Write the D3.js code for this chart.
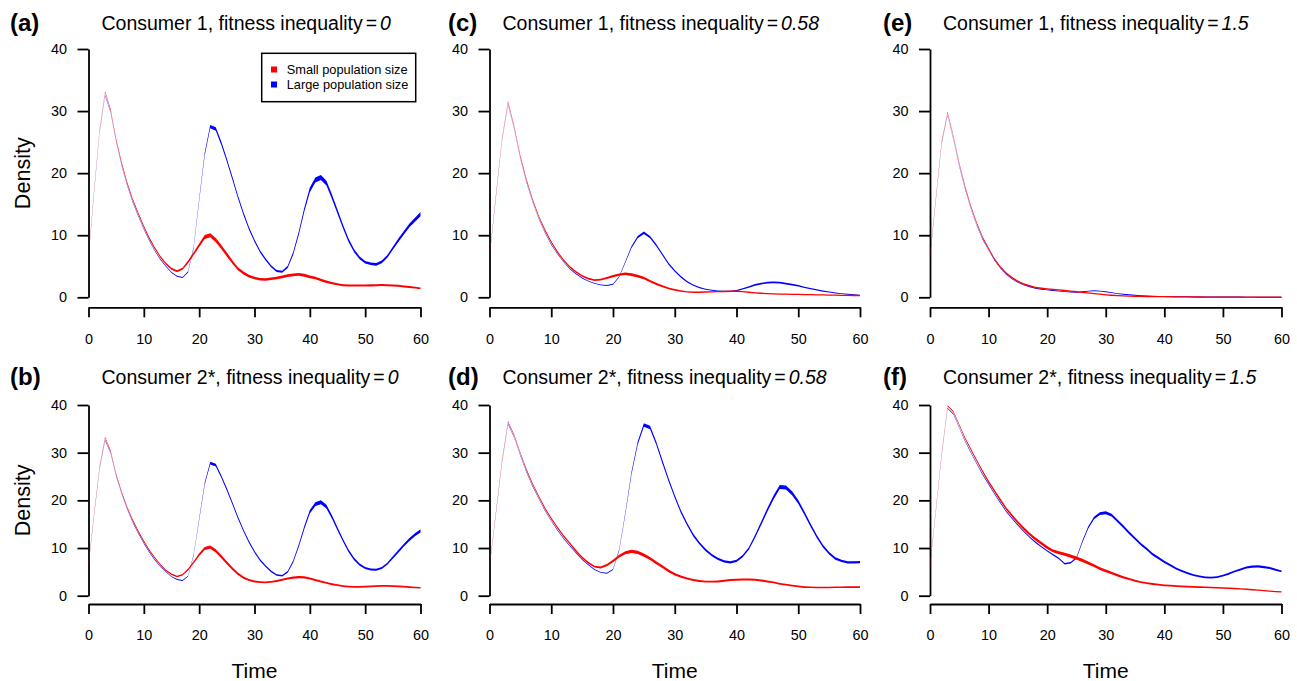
<!DOCTYPE html>
<html><head><meta charset="utf-8">
<script src="https://cdn.jsdelivr.net/npm/d3@7"></script>
<style>
body{margin:0;background:#fff}
svg{display:block}
text{font-family:"Liberation Sans",Arial,Helvetica,sans-serif;fill:#000}
</style>
</head><body>
<svg id="chart" width="1297" height="681"></svg>
<script>
// ---------------- DATA ----------------
const timeSteps = d3.range(0, 61);
const xTicks = [0, 10, 20, 30, 40, 50, 60];
const yTicks = [0, 10, 20, 30, 40];
const panelLabels = ["(a)", "(b)", "(c)", "(d)", "(e)", "(f)"];
const consumerNames = ["Consumer 1", "Consumer 2*"];
const inequalityValues = ["0", "0.58", "1.5"];
const legendLabels = ["Small population size", "Large population size"];
const yLabel = "Density";
const xLabel = "Time";

// (a) Consumer 1, inequality 0
const smallA = [6.5,17,27,33.1,30.2,25.4,21.6,18.4,15.7,13.5,11.4,9.5,7.9,6.5,5.4,4.6,4.2,4.6,5.7,7.0,8.4,9.7,10.0,9.2,8.1,6.9,5.7,4.6,3.9,3.4,3.1,2.9,2.85,3.0,3.1,3.3,3.5,3.6,3.7,3.55,3.3,3.1,2.8,2.5,2.3,2.1,1.95,1.9,1.9,1.9,1.9,1.92,1.95,1.97,1.95,1.9,1.85,1.75,1.65,1.55,1.45];
const largeA = [6.5,16.8,26.5,32.5,29.8,25.0,21.2,18.0,15.3,13.1,11.0,9.1,7.5,6.1,5.0,4.0,3.4,3.2,4.1,8.0,15.7,23.1,27.5,27.1,24.8,22.1,19.2,16.2,13.5,11.1,9.1,7.4,6.1,5.0,4.25,4.1,4.9,7.1,10.3,14.1,17.3,18.9,19.3,18.4,16.2,13.8,11.4,9.2,7.5,6.35,5.65,5.4,5.3,5.7,6.6,7.9,9.2,10.4,11.6,12.5,13.4];
// (b) Consumer 2*, inequality 0
const smallB = [6.5,17,27,33.2,30.3,25.5,21.7,18.5,15.8,13.5,11.4,9.5,7.9,6.5,5.3,4.5,4.05,4.4,5.5,7.0,8.6,9.9,10.2,9.4,8.2,6.9,5.7,4.6,3.8,3.3,3.0,2.85,2.8,2.9,3.1,3.35,3.6,3.8,3.9,3.85,3.6,3.3,3.0,2.7,2.4,2.2,2.0,1.9,1.85,1.85,1.9,1.95,2.0,2.05,2.05,2.0,1.95,1.9,1.8,1.72,1.65];
const largeB = [6.5,16.8,26.5,32.6,29.9,25.1,21.3,18.1,15.4,13.1,11.0,9.1,7.5,6.1,5.0,4.0,3.4,3.2,4.1,8.5,16.0,23.5,27.8,27.4,25.0,22.3,19.4,16.4,13.7,11.3,9.2,7.5,6.2,5.1,4.35,4.2,5.0,7.2,10.5,14.3,17.6,19.2,19.6,18.7,16.5,14.0,11.6,9.4,7.7,6.5,5.8,5.5,5.45,5.8,6.7,8.0,9.3,10.6,11.8,12.8,13.6];
// (c) Consumer 1, inequality 0.58
const smallC = [6.5,16,25.4,31.5,27.5,22.7,18.9,15.7,13.0,10.8,8.9,7.3,6.0,4.9,4.1,3.45,3.0,2.75,2.85,3.1,3.4,3.65,3.8,3.65,3.4,3.1,2.6,2.15,1.8,1.45,1.2,1.0,0.88,0.82,0.82,0.85,0.88,0.92,0.95,0.98,0.98,0.92,0.82,0.72,0.65,0.6,0.55,0.52,0.5,0.48,0.46,0.44,0.42,0.4,0.38,0.36,0.34,0.32,0.3,0.29,0.27];
const largeC = [6.5,15.8,25.0,31.0,27.1,22.3,18.5,15.3,12.6,10.4,8.5,7.0,5.7,4.6,3.8,3.1,2.6,2.25,2.0,1.9,2.1,3.3,5.7,8.1,9.7,10.4,9.7,8.4,6.9,5.4,4.25,3.3,2.5,1.95,1.55,1.3,1.13,1.02,0.97,0.97,1.08,1.35,1.65,2.0,2.2,2.35,2.4,2.35,2.2,2.05,1.85,1.6,1.4,1.2,1.0,0.85,0.7,0.6,0.5,0.4,0.32];
// (d) Consumer 2*, inequality 0.58
const smallD = [6.1,17,28.1,36.5,33.7,29.9,26.4,23.4,20.8,18.3,16.2,14.3,12.5,11.0,9.4,8.0,6.9,6.1,5.9,6.4,7.3,8.3,9.0,9.3,9.1,8.5,7.8,6.9,6.1,5.2,4.5,4.0,3.6,3.3,3.1,2.95,2.95,3.0,3.15,3.3,3.35,3.4,3.4,3.35,3.2,3.0,2.8,2.5,2.3,2.1,1.95,1.8,1.75,1.7,1.7,1.7,1.75,1.75,1.8,1.8,1.8];
const largeD = [6.1,16.8,27.5,36.0,33.2,29.4,25.9,22.9,20.3,17.8,15.7,13.8,12.0,10.5,9.0,7.6,6.5,5.5,4.9,4.7,5.5,9.6,17.3,25.7,32.0,35.8,35.3,32.0,28.1,24.3,20.8,17.6,15.0,12.7,11.0,9.6,8.5,7.7,7.2,7.0,7.3,8.3,9.9,12.4,15.2,18.0,20.6,22.8,22.7,21.5,19.7,17.3,14.8,12.4,10.4,8.9,7.8,7.3,7.0,7.0,7.06];
// (e) Consumer 1, inequality 1.5
const smallE = [6.5,16,25.1,29.8,25.9,21.6,17.8,14.6,11.9,9.6,7.9,6.2,4.9,3.9,3.2,2.6,2.15,1.85,1.6,1.45,1.35,1.25,1.2,1.1,1.0,0.9,0.8,0.7,0.6,0.5,0.4,0.33,0.27,0.22,0.19,0.17,0.15,0.13,0.12,0.11,0.1,0.09,0.08,0.07,0.06,0.05,0.05,0.04,0.04,0.03,0.03,0.03,0.02,0.02,0.02,0.02,0.01,0.01,0.01,0.01,0.01];
const largeE = [6.5,15.8,24.8,29.3,25.4,21.1,17.4,14.2,11.5,9.3,7.6,6.0,4.7,3.7,3.0,2.4,2.0,1.7,1.45,1.3,1.2,1.1,1.0,0.92,0.85,0.8,0.9,1.0,1.05,1.0,0.9,0.75,0.6,0.5,0.4,0.32,0.26,0.22,0.18,0.15,0.13,0.11,0.1,0.09,0.08,0.07,0.06,0.06,0.05,0.05,0.05,0.04,0.04,0.04,0.03,0.03,0.03,0.02,0.02,0.02,0.02];
// (f) Consumer 2*, inequality 1.5
const smallF = [6.1,18,29.9,39.8,38.6,35.8,33.0,30.6,28.3,26.0,23.9,22.0,20.1,18.3,16.8,15.4,14.1,12.9,11.9,11.0,10.1,9.4,9.0,8.7,8.3,7.9,7.4,6.85,6.3,5.7,5.2,4.75,4.3,3.85,3.5,3.15,2.85,2.65,2.45,2.3,2.15,2.1,2.0,1.95,1.9,1.85,1.8,1.75,1.7,1.65,1.6,1.55,1.5,1.42,1.35,1.25,1.15,1.05,0.95,0.87,0.8];
const largeF = [6.1,17.8,29.5,39.3,38.1,35.2,32.4,30.0,27.7,25.4,23.4,21.4,19.5,17.7,16.2,14.8,13.5,12.3,11.2,10.3,9.4,8.6,7.8,6.7,6.9,7.9,11.3,14.3,16.3,17.2,17.4,16.9,15.7,14.5,13.2,12.0,10.8,9.8,8.7,7.9,7.1,6.4,5.7,5.2,4.7,4.3,4.05,3.85,3.8,3.9,4.2,4.6,5.1,5.5,5.9,6.1,6.15,6.0,5.8,5.45,5.1];

// ---------------- LAYOUT ----------------
const W = 1297, H = 681;
const colX = [[88.5, 420.5], [489.5, 860], [930, 1281.5]];
const rowY = [{y0: 297.3, y40: 49, xAxisY: 307.3, titleY: 30, labelY: 31},
              {y0: 595.7, y40: 405, xAxisY: 604, titleY: 384, labelY: 385}];
const panelData = [
  [smallA, largeA], [smallB, largeB],
  [smallC, largeC], [smallD, largeD],
  [smallE, largeE], [smallF, largeF]
];
const colors = {small: "#ff0000", large: "#0000ff"};
// replicate-spread styling (band width) per population type
const spreadStyle = {small: {k: 0.12, ramp: 26, minHw: 0.65}, large: {k: 0.09, ramp: 40, minHw: 0.45}};

const svg = d3.select("#chart");
svg.append("rect").attr("width", W).attr("height", H).attr("fill", "#fff");

panelData.forEach((series, idx) => {
  const col = Math.floor(idx / 2), row = idx % 2;
  const [xl, xr] = colX[col];
  const R = rowY[row];
  const x = d3.scaleLinear().domain([0, 60]).range([xl, xr]);
  const y = d3.scaleLinear().domain([0, 40]).range([R.y0, R.y40]);
  const g = svg.append("g");

  // axes
  const xAxis = d3.axisBottom(x).tickValues(xTicks).tickSizeInner(10).tickSizeOuter(0).tickPadding(16);
  const yAxis = d3.axisLeft(y).tickValues(yTicks).tickSizeInner(11).tickSizeOuter(0).tickPadding(10.5);
  const gx = g.append("g").attr("transform", `translate(0,${R.xAxisY})`).call(xAxis);
  const gy = g.append("g").attr("transform", `translate(${xl},0)`).call(yAxis);
  [gx, gy].forEach(a => {
    a.selectAll("path.domain").attr("stroke", "#000").attr("stroke-width", 1.8);
    a.selectAll(".tick line").attr("stroke", "#000").attr("stroke-width", 1.8);
    a.selectAll(".tick text").attr("font-size", 14.4).attr("fill", "#000")
      .attr("font-family", '"Liberation Sans",Arial,sans-serif');
  });

  // band-lines: large (blue) first, small (red) on top
  const drawBand = (vals, color, st) => {
    const pts = vals.map((v, i) => {
      const t = timeSteps[i];
      const hwData = st.k * Math.sqrt(Math.max(v, 0)) * Math.min(1, (t + 1) / st.ramp);
      const hwPx = Math.max(st.minHw, y(0) - y(hwData));
      return {t, v, hw: hwPx};
    });
    const area = d3.area()
      .x(d => x(d.t))
      .y0(d => y(d.v) + d.hw)
      .y1(d => y(d.v) - d.hw);
    g.append("path").attr("d", area(pts)).attr("fill", color).attr("stroke", "none");
  };
  drawBand(series[1], colors.large, spreadStyle.large);
  drawBand(series[0], colors.small, spreadStyle.small);

  // title
  const title = g.append("text").attr("x", xl + 13).attr("y", R.titleY).attr("font-size", 19.5);
  title.append("tspan").text(`${consumerNames[row]}, fitness inequality`);
  title.append("tspan").attr("dx", 3).text("=");
  title.append("tspan").attr("dx", 3).attr("font-style", "italic").text(inequalityValues[col]);

  // panel label
  const labelX = [10, 448, 883][col];
  g.append("text").attr("x", labelX).attr("y", R.labelY).attr("font-size", 24)
    .attr("font-weight", "bold").text(panelLabels[idx]);

  // y label
  if (col === 0) {
    const cy = (R.y0 + R.y40) / 2;
    g.append("text").attr("transform", `translate(29.5,${cy}) rotate(-90)`)
      .attr("text-anchor", "middle").attr("font-size", 21.6).text(yLabel);
  }
  // x label
  if (row === 1) {
    g.append("text").attr("x", (xl + xr) / 2).attr("y", 677.5)
      .attr("text-anchor", "middle").attr("font-size", 21).text(xLabel);
  }
});

// legend in panel (a)
const lg = svg.append("g");
lg.append("rect").attr("x", 261.7).attr("y", 53.3).attr("width", 154).attr("height", 48.4)
  .attr("fill", "#fff").attr("stroke", "#000").attr("stroke-width", 1.5);
legendLabels.forEach((lab, i) => {
  const cy = [69.5, 84.5][i];
  lg.append("rect").attr("x", 271).attr("y", cy - 3).attr("width", 6).attr("height", 6)
    .attr("fill", i === 0 ? colors.small : colors.large);
  lg.append("text").attr("x", 286.7).attr("y", cy + 4.5).attr("font-size", 12.8).text(lab);
});
</script>
</body></html>
